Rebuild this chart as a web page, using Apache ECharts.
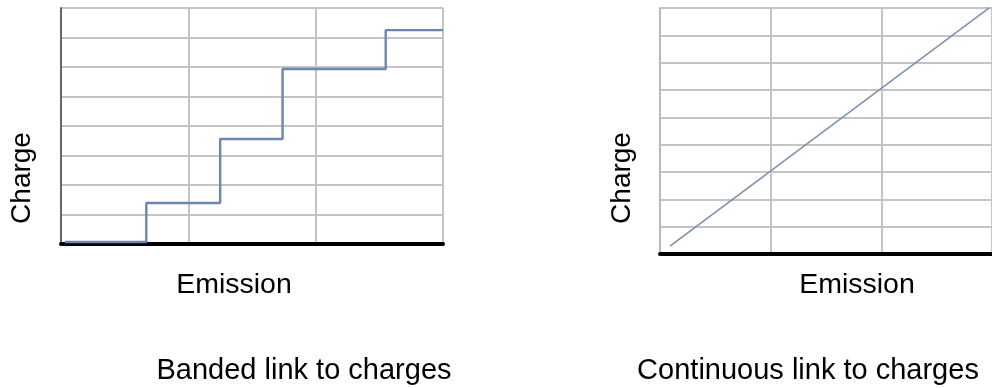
<!DOCTYPE html>
<html>
<head>
<meta charset="utf-8">
<script src="https://cdn.jsdelivr.net/npm/echarts@6/dist/echarts.min.js"></script>
<style>html,body{margin:0;padding:0;background:#fff;}#c{width:992px;height:388px;}</style>
</head>
<body>
<div id="c"></div>
<script>
// Banded link (step function): [emission, charge]
const bandedPoints = [[0.03, 0.07], [0.67, 1.39], [1.25, 3.56], [1.74, 5.93], [2.55, 7.25], [3.0, 7.25]];
// Continuous link: [emission, charge]
const continuousPoints = [[0.09, 0.29], [2.98, 9.02]];
const axisNames = { x: 'Emission', y: 'Charge' };
const captions = ['Banded link to charges', 'Continuous link to charges'];

const FONT = 'Liberation Sans, Arial, sans-serif';
const gridLine = { show: true, lineStyle: { color: '#c4c4c4', width: 2 } };

const chart = echarts.init(document.getElementById('c'), null, { renderer: 'canvas' });
chart.setOption({
  animation: false,
  backgroundColor: '#fff',
  grid: [
    { left: 61, top: 8, width: 382, height: 236 },
    { left: 660, top: 8, width: 340, height: 246 }
  ],
  xAxis: [
    { type: 'value', gridIndex: 0, min: 0, max: 3, interval: 1,
      axisLine: { show: true, lineStyle: { color: '#000', width: 4 } },
      axisTick: { show: false }, axisLabel: { show: false }, splitLine: gridLine },
    { type: 'value', gridIndex: 1, min: 0, max: 3, interval: 1,
      axisLine: { show: true, lineStyle: { color: '#000', width: 4 } },
      axisTick: { show: false }, axisLabel: { show: false }, splitLine: gridLine }
  ],
  yAxis: [
    { type: 'value', gridIndex: 0, min: 0, max: 8, interval: 1,
      axisLine: { show: true, lineStyle: { color: '#666', width: 2 } },
      axisTick: { show: false }, axisLabel: { show: false }, splitLine: gridLine },
    { type: 'value', gridIndex: 1, min: 0, max: 9, interval: 1,
      axisLine: { show: true, lineStyle: { color: '#b8b8b8', width: 2 } },
      axisTick: { show: false }, axisLabel: { show: false }, splitLine: gridLine }
  ],
  series: [
    { type: 'line', xAxisIndex: 0, yAxisIndex: 0, step: 'end', data: bandedPoints,
      symbol: 'none', lineStyle: { color: '#6b87ad', width: 2.4 }, z: 5 },
    { type: 'line', xAxisIndex: 1, yAxisIndex: 1, data: continuousPoints,
      symbol: 'none', lineStyle: { color: '#7990b0', width: 1.6 }, z: 5 }
  ],
  graphic: [
    { type: 'text', x: 22, y: 178, rotation: Math.PI / 2,
      style: { text: axisNames.y, fill: '#000', font: '28px ' + FONT, align: 'center', verticalAlign: 'middle' } },
    { type: 'text', x: 622, y: 178, rotation: Math.PI / 2,
      style: { text: axisNames.y, fill: '#000', font: '28px ' + FONT, align: 'center', verticalAlign: 'middle' } },
    { type: 'text', x: 234, y: 285,
      style: { text: axisNames.x, fill: '#000', font: '28.5px ' + FONT, align: 'center', verticalAlign: 'middle' } },
    { type: 'text', x: 857, y: 285,
      style: { text: axisNames.x, fill: '#000', font: '28.5px ' + FONT, align: 'center', verticalAlign: 'middle' } },
    { type: 'text', x: 304, y: 371,
      style: { text: captions[0], fill: '#000', font: '29px ' + FONT, align: 'center', verticalAlign: 'middle' } },
    { type: 'text', x: 808, y: 371,
      style: { text: captions[1], fill: '#000', font: '29px ' + FONT, align: 'center', verticalAlign: 'middle' } }
  ]
});
</script>
</body>
</html>
